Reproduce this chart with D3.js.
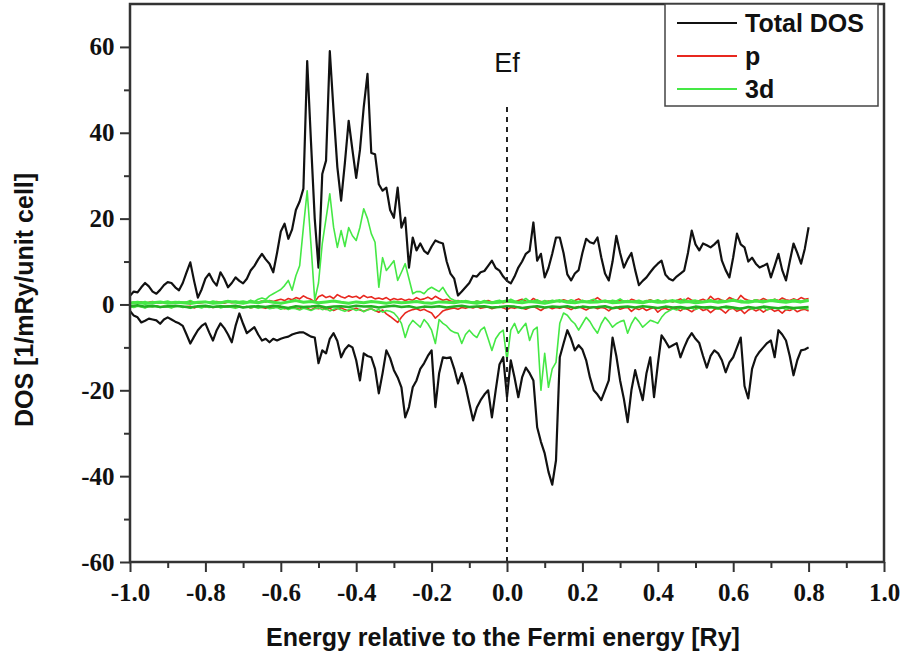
<!DOCTYPE html>
<html>
<head>
<meta charset="utf-8">
<script src="https://cdn.jsdelivr.net/npm/d3@7"></script>
<style>
  body { margin: 0; background: #fff; }
  svg { display: block; }
</style>
</head>
<body>
<div id="chart"></div>
<script>
// energy grid: -1.0 .. 0.8 Ry, step 0.01 (band lines use step 0.02)
var eStart = -1.0
var eStep = 0.01
var bandStep = 0.02

var xTickValues = [-1.0, -0.8, -0.6, -0.4, -0.2, 0.0, 0.2, 0.4, 0.6, 0.8, 1.0]
var xMinorValues = [-0.9, -0.7, -0.5, -0.3, -0.1, 0.1, 0.3, 0.5, 0.7, 0.9]
var yTickValues = [-60, -40, -20, 0, 20, 40, 60]
var yMinorValues = [-50, -30, -10, 10, 30, 50]

var legendNames = ["Total DOS", "p", "3d"]

var totalUp = [2.0,3.0,2.8,4.0,5.0,4.2,3.0,2.5,3.4,4.5,5.2,5.0,4.0,3.3,5.0,7.5,9.8,5.5,1.6,3.5,
  6.0,7.2,5.5,4.4,7.5,6.0,4.0,5.0,6.3,5.5,4.9,6.0,7.9,9.0,10.5,11.8,10.5,9.5,7.5,12.0,
  17.0,18.8,15.3,17.5,22.0,24.0,27.0,56.7,38.0,20.0,8.6,30.4,33.5,59.0,45.0,32.0,24.2,33.0,42.8,36.0,
  29.5,36.0,46.0,53.7,35.3,35.0,28.0,26.5,27.2,22.0,20.2,27.2,17.9,20.2,8.6,15.6,12.6,14.2,12.5,11.8,
  13.5,14.9,14.5,14.2,10.0,7.2,6.0,2.1,3.0,4.0,5.0,6.7,6.5,7.5,7.8,9.0,10.2,8.5,7.9,6.5,
  5.5,4.9,6.5,8.6,10.0,11.8,12.5,19.1,10.2,11.8,6.3,8.5,11.8,15.6,15.6,12.0,7.0,5.6,7.2,8.0,
  12.0,15.3,14.5,14.2,15.6,11.0,7.2,5.6,10.0,16.0,12.0,8.6,10.5,12.0,8.0,4.5,5.5,6.3,7.5,8.6,
  9.5,10.2,7.0,6.0,5.6,6.5,7.2,7.9,12.0,17.2,14.0,12.6,14.2,13.8,13.3,14.0,14.9,10.2,8.0,6.3,
  11.0,16.5,14.0,13.3,10.0,10.9,9.5,8.6,9.0,9.5,6.3,9.0,11.8,8.0,5.6,10.0,14.2,12.0,9.5,13.0,18.0]

var totalDown = [-1.5,-2.6,-3.0,-4.2,-3.8,-3.3,-3.5,-3.7,-4.5,-3.5,-3.0,-3.5,-4.0,-4.4,-5.0,-7.0,-9.1,-7.5,-6.0,-5.0,
  -4.4,-6.5,-8.4,-6.0,-4.4,-5.5,-7.0,-8.8,-5.0,-2.1,-4.5,-6.7,-6.0,-5.3,-7.0,-8.4,-8.0,-8.8,-8.0,-8.4,
  -8.0,-7.7,-7.5,-7.0,-6.7,-6.5,-6.5,-7.0,-7.5,-7.7,-13.7,-10.7,-11.4,-8.0,-6.7,-8.5,-12.3,-10.5,-9.5,-10.0,
  -13.0,-17.7,-11.4,-12.0,-12.3,-15.0,-20.7,-16.0,-10.7,-12.5,-15.3,-17.0,-19.3,-26.3,-23.9,-19.3,-17.7,-15.0,-13.7,-12.0,
  -10.7,-23.9,-16.0,-12.3,-12.5,-12.3,-15.0,-18.4,-16.0,-19.0,-23.0,-27.0,-24.0,-22.3,-21.0,-20.0,-26.3,-20.0,-14.0,-12.3,
  -21.6,-13.0,-17.0,-21.6,-17.0,-14.7,-16.0,-17.7,-28.6,-32.0,-34.7,-39.0,-42.0,-36.3,-12.3,-9.1,-6.0,-8.0,-10.7,-9.5,
  -10.5,-13.0,-17.0,-20.0,-21.0,-22.3,-20.0,-17.7,-7.7,-12.0,-17.7,-22.0,-27.4,-20.0,-15.3,-19.0,-22.3,-16.0,-12.3,-21.6,
  -14.0,-7.2,-8.5,-10.0,-9.5,-9.0,-12.3,-10.0,-8.0,-6.7,-8.0,-9.0,-12.0,-14.7,-12.0,-10.7,-11.4,-13.0,-15.8,-13.5,
  -12.3,-10.0,-7.7,-19.0,-21.9,-15.0,-12.3,-11.0,-10.0,-9.0,-8.4,-12.3,-6.0,-7.0,-8.4,-12.0,-16.5,-13.0,-10.7,-10.5,-10.0]

var pUp = [0.3,0.5,0.4,0.6,0.3,0.5,0.7,0.4,0.3,0.6,0.5,0.4,0.6,0.3,0.5,0.4,0.7,0.5,0.3,0.4,
  0.6,0.5,0.4,0.7,0.5,0.3,0.6,0.4,0.5,0.6,0.4,0.5,0.7,0.6,0.5,0.8,0.6,0.9,0.7,1.0,
  1.2,0.9,1.4,1.1,1.6,1.3,2.0,1.5,1.2,0.6,1.8,2.2,1.6,1.9,1.4,2.3,1.8,1.5,2.0,1.7,
  1.9,1.4,2.1,1.6,1.8,1.3,1.5,1.2,1.6,1.0,1.4,1.1,1.3,0.9,1.2,1.0,1.6,1.1,1.3,1.7,
  1.2,1.9,1.4,1.0,1.2,0.8,0.6,0.9,0.5,0.7,
  0.6,0.4,0.8,0.5,0.7,0.9,0.6,0.5,0.8,0.4,0.6,0.7,0.5,0.9,1.2,0.8,0.6,1.4,0.9,0.7,
  0.5,0.8,0.6,0.9,0.7,1.1,0.8,0.6,0.9,1.3,0.7,0.5,0.8,1.0,1.6,0.9,0.6,0.8,0.5,0.7,
  1.0,0.8,0.6,1.2,0.9,0.7,0.5,0.8,1.1,0.7,0.9,0.6,1.0,0.8,0.6,0.9,1.3,0.8,1.5,1.0,
  0.7,0.9,1.2,0.8,1.9,1.1,1.4,1.0,0.8,1.6,1.2,0.9,2.1,1.3,1.0,0.8,1.1,0.9,1.4,1.0,
  0.8,1.2,0.9,1.5,1.1,0.9,1.3,1.0,1.6,1.2,1.4]

var pDown = [-0.4,-0.6,-0.3,-0.5,-0.7,-0.4,-0.5,-0.3,-0.6,-0.4,-0.5,-0.7,-0.4,-0.3,-0.6,-0.5,-0.4,-0.8,-0.5,-0.3,
  -0.6,-0.4,-0.7,-0.5,-0.4,-0.6,-0.3,-0.5,-0.7,-0.4,-0.6,-0.5,-0.8,-0.6,-0.4,-0.7,-0.9,-0.6,-0.8,-0.5,
  -0.7,-1.0,-0.8,-0.6,-0.9,-1.1,-0.7,-0.9,-1.3,-0.8,-1.0,-0.7,-1.2,-0.9,-1.4,-1.0,-0.8,-1.2,-1.5,-1.1,
  -0.9,-1.3,-1.6,-1.2,-1.0,-1.4,-1.8,-1.3,-2.2,-2.8,-3.5,-4.2,-3.0,-2.0,-1.5,-1.2,-1.0,-1.4,-1.1,-1.6,
  -2.0,-3.2,-2.4,-1.5,-1.2,-1.0,-0.8,-1.1,-0.7,-0.9,
  -0.6,-0.8,-0.5,-0.9,-0.7,-0.6,-1.0,-0.7,-0.5,-0.8,-1.2,-0.7,-0.9,-0.6,-0.8,-1.1,-0.7,-0.5,-0.9,-1.4,
  -0.8,-0.6,-1.0,-0.7,-0.9,-0.6,-0.8,-1.2,-0.7,-0.5,-0.9,-1.3,-0.8,-0.6,-1.0,-0.7,-0.9,-1.5,-0.8,-0.6,
  -1.1,-0.8,-0.7,-1.6,-0.9,-1.2,-0.8,-1.4,-1.0,-0.7,-1.8,-1.1,-0.9,-1.3,-0.8,-1.0,-1.5,-0.9,-1.2,-1.7,
  -1.0,-0.8,-1.4,-1.1,-1.9,-1.2,-0.9,-1.3,-2.0,-1.1,-0.9,-1.6,-1.2,-2.1,-1.3,-1.0,-1.5,-1.1,-1.8,-1.2,
  -1.0,-1.6,-1.3,-2.0,-1.2,-1.4,-1.0,-1.7,-1.3,-1.1,-1.5]

var d3Up = [0.4,0.6,0.3,0.5,0.7,0.4,0.6,0.5,0.3,0.6,0.8,0.5,0.4,0.7,0.5,0.6,0.9,0.5,0.4,0.6,
  0.7,0.5,0.8,0.6,0.5,0.7,0.9,0.6,0.8,0.7,
  0.8,0.6,1.0,0.7,1.2,1.5,1.2,2.0,2.5,3.0,3.5,4.4,5.6,3.3,6.7,9.0,18.0,26.5,14.0,1.0,
  5.0,14.2,20.0,25.8,18.0,13.3,17.2,13.5,17.9,16.0,14.9,18.0,22.3,20.0,16.5,14.5,4.0,10.9,7.9,9.0,
  10.2,5.6,7.5,9.5,6.0,2.5,3.0,3.0,2.5,3.5,4.0,3.5,3.0,4.0,2.5,1.4,
  1.0,0.8,0.6,0.9,0.7,0.5,0.8,0.6,0.9,0.7,0.5,0.8,1.0,0.6,0.7,1.2,0.8,0.6,0.9,1.4,
  0.7,0.8,1.1,0.6,0.9,0.7,1.0,0.8,0.6,0.9,0.7,1.1,0.8,0.6,1.0,0.7,0.9,1.2,0.8,0.6,
  0.9,0.7,1.0,0.8,1.3,0.7,0.9,0.6,0.8,1.0,0.7,0.9,0.6,0.8,1.1,0.7,0.9,0.8,0.6,1.0,
  0.8,1.2,0.7,0.9,1.0,0.8,0.6,0.9,1.1,0.7,0.8,1.0,0.7,0.9,1.2,0.8,1.0,0.7,0.9,0.8,
  1.1,0.7,1.0,0.8,0.9,1.2,0.8,1.0,0.9,0.7,1.1,0.9,0.8,1.0,0.9]

var d3Down = [-0.5,-0.7,-0.4,-0.6,-0.8,-0.5,-0.6,-0.4,-0.7,-0.5,-0.6,-0.8,-0.5,-0.4,-0.7,-0.6,-0.9,-0.5,-0.6,-0.8,
  -0.5,-0.7,-0.6,-0.4,-0.8,-0.6,-0.5,-0.7,-0.9,-0.6,-0.7,-0.5,-0.8,-0.6,-0.9,-0.7,-0.6,-1.0,-0.8,-0.7,
  -1.1,-0.8,-1.2,-0.9,-1.0,-1.3,-0.9,-1.1,-1.4,-1.0,-0.8,-1.2,-1.0,-1.5,-1.1,-0.9,-1.3,-1.6,-1.2,-1.0,
  -1.4,-1.1,-1.7,-1.3,-1.0,-1.5,-1.2,-1.8,-1.4,-1.6,
  -2.0,-3.0,-4.4,-7.7,-5.0,-3.7,-4.5,-5.3,-3.5,-4.5,-6.0,-9.1,-3.5,-4.4,-5.0,-6.0,-6.5,-6.7,-9.1,-7.0,
  -6.0,-7.0,-7.7,-6.0,-5.3,-8.0,-10.7,-8.0,-6.7,-6.0,-13.0,-6.0,-4.4,-6.7,-5.5,-4.4,-8.4,-6.0,-5.3,-20.0,
  -11.4,-19.3,-15.0,-13.5,-4.4,-2.0,-2.5,-3.7,-4.5,-6.0,-4.5,-3.0,-4.0,-5.5,-6.7,-4.5,-3.0,-4.0,-5.3,-4.5,
  -4.0,-3.7,-6.7,-4.5,-3.0,-4.0,-5.3,-4.5,-3.7,-4.0,-4.4,-3.0,-2.0,
  -1.5,-1.0,-1.3,-0.8,-1.1,-0.7,-0.9,-1.2,-0.8,-0.6,-1.0,-0.7,-0.9,-1.1,-0.6,-0.8,-1.0,-0.7,-1.2,-0.8,
  -0.9,-0.6,-1.1,-0.8,-1.0,-0.7,-1.3,-0.9,-0.8,-1.0,-0.7,-1.2,-0.9,-1.1,-0.8,-1.0,-0.9,-1.2]

// 3d of the other sites, all close to zero (the dark green band)
var d3BandUp = [0.3,0.5,0.2,0.4,0.6,0.3,0.5,0.4,0.2,0.5,0.6,0.3,0.4,0.7,0.5,0.3,0.6,0.4,0.8,0.5,
  0.3,0.6,0.9,0.5,0.7,0.4,0.6,0.8,0.5,0.3,0.6,0.4,0.7,0.5,0.3,0.6,0.4,0.5,0.7,0.4,
  0.3,0.6,0.5,0.4,0.7,0.5,0.3,0.6,0.4,0.5,0.8,0.6,0.4,0.7,0.5,0.3,0.6,0.9,0.5,0.4,
  0.7,0.5,0.6,0.8,0.4,0.5,0.7,0.6,0.4,0.8,0.5,0.6,0.9,0.5,0.7,0.4,0.6,0.8,0.5,0.7,
  1.0,0.6,0.5,0.8,0.6,0.9,0.7,0.5,0.8,0.6,0.9]
var d3BandDown = [-0.4,-0.2,-0.5,-0.3,-0.6,-0.4,-0.3,-0.5,-0.7,-0.4,-0.3,-0.6,-0.4,-0.5,-0.3,-0.7,-0.5,-0.4,-0.6,-0.3,
  -0.5,-0.8,-0.4,-0.6,-0.5,-0.3,-0.7,-0.5,-0.4,-0.6,-0.3,-0.5,-0.4,-0.7,-0.5,-0.3,-0.6,-0.4,-0.8,-0.5,
  -0.6,-0.4,-0.7,-0.5,-0.3,-0.6,-0.5,-0.4,-0.7,-0.6,-0.4,-0.5,-0.8,-0.6,-0.4,-0.7,-0.5,-0.6,-0.4,-0.8,
  -0.5,-0.7,-0.6,-0.4,-0.9,-0.6,-0.5,-0.7,-0.4,-0.6,-0.8,-0.5,-0.7,-0.6,-0.9,-0.5,-0.7,-0.6,-0.8,-0.5,
  -0.7,-1.0,-0.6,-0.8,-0.5,-0.7,-0.9,-0.6,-0.8,-0.7,-0.6]

var black = "#111111", red = "#e8281f", green = "#45e845", bandGreen = "#22b022"

var margin = {top: 4, right: 20, bottom: 100, left: 130};
var width = 884 - margin.left;
var height = 562 - margin.top;

var svg = d3.select("#chart")
    .append("svg")
    .attr("width", 904)
    .attr("height", 662)
var graph = svg.append("g")
    .attr('transform', 'translate(' + margin.left + ',' + margin.top + ')')

var x = d3.scaleLinear().domain([-1, 1]).range([0, width]);
var y = d3.scaleLinear().domain([-60, 70]).range([height, 0]);

function toPoints(values, step) {
    return values.map(function (v, i) { return [eStart + i * step, v] })
}

var line = d3.line()
    .x(function (d) { return x(d[0]) })
    .y(function (d) { return y(d[1]) });

graph.append("defs").append("clipPath").attr("id", "clip")
    .append("rect").attr("width", width).attr("height", height)

var plot = graph.append("g").attr("clip-path", "url(#clip)")

var series = [
    {values: totalUp, step: eStep, color: black, w: 2.2},
    {values: totalDown, step: eStep, color: black, w: 2.2},
    {values: pUp, step: eStep, color: red, w: 1.6},
    {values: pDown, step: eStep, color: red, w: 1.6},
    {values: d3Up, step: eStep, color: green, w: 1.6},
    {values: d3Down, step: eStep, color: green, w: 1.6},
    {values: d3BandUp, step: bandStep, color: green, w: 3},
    {values: d3BandDown, step: bandStep, color: bandGreen, w: 2.5}
]

series.forEach(function (s) {
    plot.append("path")
        .datum(toPoints(s.values, s.step))
        .attr("fill", "none")
        .attr("stroke", s.color)
        .attr("stroke-width", s.w)
        .attr("stroke-linejoin", "round")
        .attr("d", line)
})

// Fermi level
plot.append("line")
    .attr("x1", x(0)).attr("x2", x(0))
    .attr("y1", y(46)).attr("y2", height)
    .attr("stroke", "#222")
    .attr("stroke-width", 2)
    .attr("stroke-dasharray", "5,5")

graph.append("text")
    .attr("x", x(0))
    .attr("y", 68)
    .attr("text-anchor", "middle")
    .attr("font-family", "Liberation Sans, Arial, sans-serif")
    .attr("font-size", "27px")
    .attr("fill", "#111")
    .text("Ef")

// axes
var tickFont = "Liberation Serif, Times New Roman, serif"
var xAxisGroup = graph.append("g")
    .attr("transform", "translate(0," + height + ")")
    .call(d3.axisBottom(x).tickValues(xTickValues).tickSize(10).tickSizeOuter(0)
        .tickFormat(function (d) { return d.toFixed(1) }))
graph.append("g")
    .attr("transform", "translate(0," + height + ")")
    .call(d3.axisBottom(x).tickValues(xMinorValues).tickSize(6).tickSizeOuter(0).tickFormat(""))
var yAxisGroup = graph.append("g")
    .call(d3.axisLeft(y).tickValues(yTickValues).tickSize(10).tickSizeOuter(0)
        .tickFormat(function (d) { return String(d) }))
graph.append("g")
    .call(d3.axisLeft(y).tickValues(yMinorValues).tickSize(6).tickSizeOuter(0).tickFormat(""))

graph.selectAll(".domain").attr("stroke", "none")
graph.selectAll(".tick line").attr("stroke", "#333").attr("stroke-width", 2)
graph.selectAll(".tick text")
    .attr("font-family", tickFont)
    .attr("font-weight", "bold")
    .attr("font-size", "25px")
    .attr("fill", "#111")
xAxisGroup.selectAll(".tick text").attr("dy", "1.05em")
yAxisGroup.selectAll(".tick text").attr("dx", "-0.1em")

// frame
graph.append("rect")
    .attr("width", width)
    .attr("height", height)
    .attr("fill", "none")
    .attr("stroke", "#333")
    .attr("stroke-width", 2.5)

// axis titles
svg.append("text")
    .attr("x", margin.left + x(0) - 4)
    .attr("y", 646)
    .attr("text-anchor", "middle")
    .attr("font-family", "Liberation Sans, Arial, sans-serif")
    .attr("font-weight", "bold")
    .attr("font-size", "25px")
    .attr("fill", "#111")
    .text("Energy relative to the Fermi energy [Ry]")

svg.append("text")
    .attr("transform", "translate(33,300) rotate(-90)")
    .attr("text-anchor", "middle")
    .attr("font-family", "Liberation Sans, Arial, sans-serif")
    .attr("font-weight", "bold")
    .attr("font-size", "25px")
    .attr("fill", "#111")
    .text("DOS [1/mRy/unit cell]")

// legend
var legend = svg.append("g").attr("transform", "translate(665,4)")
legend.append("rect")
    .attr("width", 213)
    .attr("height", 102)
    .attr("fill", "#fff")
    .attr("stroke", "#444")
    .attr("stroke-width", 1.5)
var legendColors = [black, red, green]
legendNames.forEach(function (name, i) {
    var yy = 19 + i * 33
    legend.append("line")
        .attr("x1", 12).attr("x2", 72)
        .attr("y1", yy).attr("y2", yy)
        .attr("stroke", legendColors[i])
        .attr("stroke-width", 2)
    legend.append("text")
        .attr("x", 80)
        .attr("y", yy + 9)
        .attr("font-family", "Liberation Sans, Arial, sans-serif")
        .attr("font-weight", "bold")
        .attr("font-size", "25px")
        .attr("fill", "#111")
        .text(name)
})
</script>
</body>
</html>
